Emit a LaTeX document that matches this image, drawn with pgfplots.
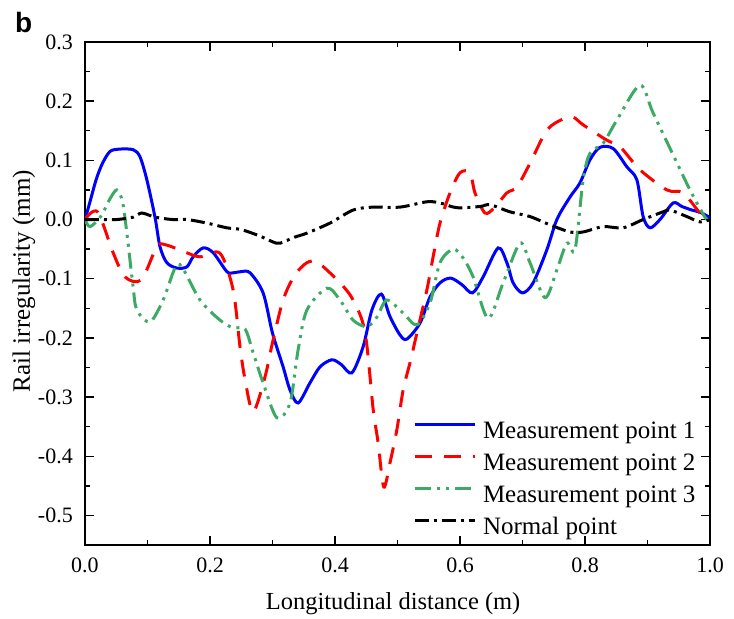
\documentclass[border=0pt]{standalone}
\usepackage{pgfplots}
\pgfplotsset{compat=1.18}
\usetikzlibrary{calc}
\usepackage{fontspec}
\setmainfont{Liberation Serif}
\newfontfamily\arialbf{Liberation Sans}
\definecolor{mblue}{RGB}{0,0,255}
\definecolor{mred}{RGB}{255,0,0}
\definecolor{mgreen}{RGB}{60,170,100}
\begin{document}
\begin{tikzpicture}
\begin{axis}[
  scale only axis, width=625bp, height=503bp,
  xmin=0, xmax=1, ymin=-0.55, ymax=0.3,
  axis line style={line width=1.6bp},
  every tick/.style={black, line width=1.4bp},
  major tick length=9bp, minor tick length=5bp,
  tick align=inside,
  xtick={0,0.2,0.4,0.6,0.8,1.0},
  xticklabels={0.0,0.2,0.4,0.6,0.8,1.0},
  minor xtick={0.1,0.3,0.5,0.7,0.9},
  ytick={-0.5,-0.4,-0.3,-0.2,-0.1,0,0.1,0.2,0.3},
  yticklabels={-0.5,-0.4,-0.3,-0.2,-0.1,0.0,0.1,0.2,0.3},
  minor ytick={-0.55,-0.45,-0.35,-0.25,-0.15,-0.05,0.05,0.15,0.25},
  ticklabel style={font=\fontsize{22bp}{26bp}\selectfont, inner sep=0pt},
  yticklabel style={xshift=-12bp},
  xticklabel style={yshift=-13bp},
  xlabel={Longitudinal distance (m)},
  ylabel={Rail irregularity (mm)},
  every axis x label/.style={at={(axis description cs:0.493,-0.129)}, anchor=base, font=\fontsize{24.5bp}{28bp}\selectfont},
  every axis y label/.style={at={(axis description cs:-0.0976,0.525)}, anchor=center, rotate=90, font=\fontsize{25bp}{28bp}\selectfont},
  legend style={draw=none, fill=none, inner sep=0pt, outer sep=0pt,
    at={(rel axis cs:0.5248,0.2445)}, anchor=north west,
    font=\fontsize{25bp}{28bp}\selectfont,
    nodes={inner sep=0pt, text height=16bp, text depth=5bp},
    row sep=11bp, column sep=7bp},
  legend cell align=left,
  legend image code/.code={\draw[#1] (0bp,8bp) -- (60bp,8bp);},
  smooth, tension=0.5,
]
\coordinate (O) at (rel axis cs:0,0);
% Measurement point 1
\addplot[mblue, line width=3bp] coordinates {
(0,0.0) (0.008,0.03) (0.018,0.068) (0.028,0.095) (0.04,0.115) (0.055,0.119) (0.077,0.118)
(0.088,0.106) (0.099,0.067) (0.112,0.004) (0.12,-0.046) (0.131,-0.073) (0.147,-0.082)
(0.163,-0.080) (0.173,-0.063) (0.189,-0.048) (0.205,-0.056) (0.227,-0.088) (0.237,-0.090)
(0.250,-0.088) (0.264,-0.090) (0.285,-0.124) (0.30,-0.192) (0.317,-0.249) (0.328,-0.288)
(0.341,-0.310) (0.36,-0.276) (0.376,-0.249) (0.395,-0.237) (0.41,-0.245) (0.427,-0.259)
(0.445,-0.215) (0.459,-0.153) (0.474,-0.126) (0.488,-0.164) (0.504,-0.195) (0.515,-0.202)
(0.536,-0.175) (0.552,-0.131) (0.568,-0.107) (0.585,-0.099) (0.603,-0.110) (0.62,-0.124)
(0.637,-0.097) (0.661,-0.048) (0.675,-0.073) (0.685,-0.107) (0.70,-0.124) (0.717,-0.107)
(0.739,-0.051) (0.755,0.0) (0.776,0.038) (0.792,0.062) (0.808,0.101) (0.824,0.122)
(0.845,0.120) (0.867,0.089) (0.883,0.067) (0.893,0.005) (0.904,-0.014) (0.92,0.0)
(0.941,0.028) (0.955,0.022) (0.971,0.016) (0.985,0.012) (1.0,0.003)
};
\addlegendentry{Measurement point 1}
% Measurement point 2
\addplot[mred, line width=3bp, dash pattern=on 17bp off 12bp] coordinates {
(0,0.0) (0.02,0.013) (0.045,-0.056) (0.064,-0.097) (0.09,-0.102) (0.115,-0.046)
(0.13,-0.043) (0.16,-0.055) (0.184,-0.063) (0.216,-0.057) (0.237,-0.119) (0.248,-0.215)
(0.256,-0.270) (0.269,-0.325) (0.288,-0.266) (0.30,-0.208) (0.317,-0.136) (0.335,-0.095)
(0.355,-0.073) (0.373,-0.073) (0.408,-0.107) (0.429,-0.136) (0.448,-0.190) (0.461,-0.320)
(0.469,-0.377) (0.478,-0.452) (0.488,-0.411) (0.499,-0.355) (0.509,-0.288) (0.52,-0.242)
(0.531,-0.192) (0.547,-0.119) (0.557,-0.063) (0.568,-0.006) (0.584,0.045) (0.60,0.079)
(0.616,0.079) (0.624,0.045) (0.64,0.011) (0.655,0.020) (0.675,0.045) (0.691,0.055)
(0.712,0.095) (0.739,0.151) (0.765,0.170) (0.781,0.173) (0.797,0.160) (0.835,0.134)
(0.856,0.123) (0.888,0.084) (0.931,0.050) (0.957,0.045) (0.985,0.010) (1.0,0.004)
};
\addlegendentry{Measurement point 2}
% Measurement point 3
\addplot[mgreen, line width=3bp, dash pattern=on 16bp off 6bp on 3bp off 6bp on 3bp off 6bp] coordinates {
(0,0.0) (0.008,-0.012) (0.025,0.005) (0.04,0.035) (0.051,0.050) (0.06,0.030) (0.067,-0.023)
(0.077,-0.114) (0.083,-0.153) (0.104,-0.173) (0.125,-0.136) (0.144,-0.082) (0.155,-0.080)
(0.184,-0.136) (0.216,-0.170) (0.237,-0.183) (0.256,-0.185) (0.269,-0.225) (0.285,-0.276)
(0.307,-0.335) (0.328,-0.310) (0.341,-0.220) (0.355,-0.153) (0.387,-0.116) (0.408,-0.136)
(0.429,-0.170) (0.451,-0.181) (0.467,-0.165) (0.483,-0.136) (0.509,-0.158) (0.531,-0.178)
(0.552,-0.141) (0.568,-0.073) (0.589,-0.050) (0.605,-0.065) (0.621,-0.097) (0.645,-0.167)
(0.669,-0.107) (0.696,-0.040) (0.712,-0.073) (0.736,-0.132) (0.755,-0.085) (0.771,-0.040)
(0.784,-0.051) (0.797,0.067) (0.808,0.112) (0.829,0.129) (0.851,0.168) (0.888,0.227)
(0.909,0.180) (0.947,0.096) (0.968,0.050) (0.992,0.004) (1.0,0.0)
};
\addlegendentry{Measurement point 3}
% Normal point
\addplot[black, line width=3bp, dash pattern=on 14bp off 5bp on 3bp off 5bp] coordinates {
(0,0.0) (0.025,0.0) (0.051,0.0) (0.077,0.004) (0.091,0.011) (0.112,0.004) (0.14,0.0)
(0.163,0.0) (0.195,-0.006) (0.227,-0.014) (0.25,-0.017) (0.28,-0.028) (0.301,-0.038)
(0.312,-0.040) (0.335,-0.030) (0.355,-0.023) (0.392,-0.006) (0.429,0.016) (0.461,0.021)
(0.504,0.021) (0.547,0.030) (0.568,0.028) (0.595,0.020) (0.632,0.022) (0.648,0.025)
(0.68,0.013) (0.712,0.005) (0.744,-0.009) (0.776,-0.021) (0.797,-0.021) (0.829,-0.012)
(0.861,-0.014) (0.893,0.0) (0.925,0.013) (0.936,0.016) (0.963,0.005) (0.984,-0.004) (1.0,0.0)
};
\addlegendentry{Normal point}
\end{axis}
\path (O) ++(-85bp,-73bp) rectangle ++(734bp,618bp);
\node[anchor=base west, inner sep=0pt, font=\arialbf\bfseries\fontsize{28bp}{32bp}\selectfont] at ($(O)+(-70bp,512bp)$) {b};
\end{tikzpicture}
\end{document}
